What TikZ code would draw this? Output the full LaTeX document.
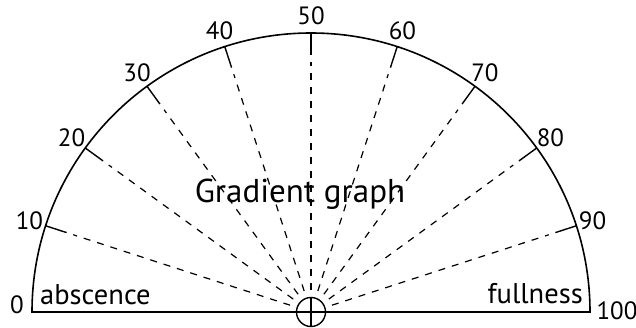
\documentclass[tikz,border=0pt]{standalone}
\usepackage{fontspec}
\setmainfont{PT Sans}
\usetikzlibrary{calc}
\begin{document}
\begin{tikzpicture}[x=1pt,y=1pt,
  arcline/.style={line width=1.6pt},
  tickline/.style={line width=1.4pt},
  rayline/.style={line width=1.2pt,dash pattern=on 7pt off 7pt},
  numlabel/.style={font=\fontsize{25}{28}\selectfont,inner sep=0pt},
  wordlabel/.style={font=\fontsize{28.5}{32}\selectfont,inner sep=0pt},
  titlelabel/.style={font=\fontsize{33}{37}\selectfont,inner sep=0pt}]
\useasboundingbox[fill=white] (0,0) rectangle (636,327);
\coordinate (O) at (311,15);
\coordinate (L) at (32,15);
\coordinate (R) at (590,15);
% semicircle and diameter
\draw[arcline] (L) arc[start angle=180,end angle=0,radius=279] -- cycle;
% ticks and dashed rays
\foreach \i in {1,...,9}{
  \pgfmathsetmacro{\a}{180-18*\i}
  \coordinate (t\i o) at ($(O)+(\a:279)$);
  \coordinate (t\i i) at ($(O)+(\a:257)$);
  \coordinate (r\i s) at ($(O)+(\a:22)$);
  \coordinate (r\i e) at ($(O)+(\a:250)$);
  \draw[tickline] (t\i o) -- (t\i i);
  \draw[rayline] (r\i s) -- (r\i e);
}
% centre circle
\node[draw,circle,line width=1.4pt,minimum size=29pt,inner sep=0pt] (C) at (O) {};
\draw[line width=1.4pt] (C.north) -- (C.south);
% labels
\node[numlabel] (n0) at (17,22) {0};
\foreach \i/\t in {1/10,2/20,3/30,4/40,5/50,6/60,7/70,8/80,9/90}{
  \pgfmathsetmacro{\a}{180-18*\i}
  \node[numlabel] (n\i) at ($(O)+(\a:296)$) {\t};
}
\node[numlabel] (n10) at (617,16) {100};
\node[wordlabel,anchor=base west] (abs) at (40,23) {abscence};
\node[wordlabel,anchor=base east] (full) at (583,24) {fullness};
\node[titlelabel,anchor=base] (title) at (300,125) {Gradient graph};
\end{tikzpicture}
\end{document}
